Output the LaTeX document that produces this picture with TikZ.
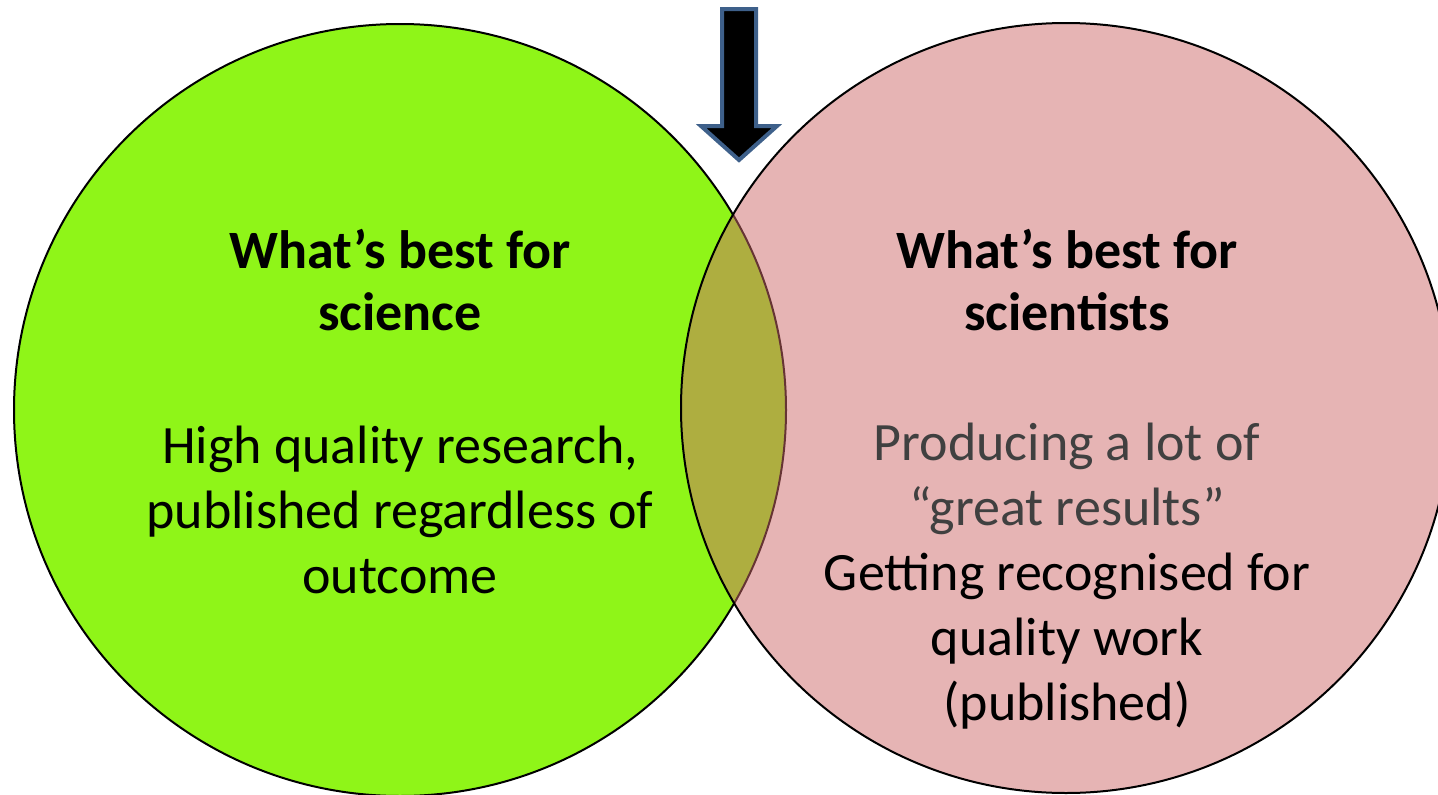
\documentclass[tikz,border=0pt]{standalone}
\usepackage{fontspec}
\setmainfont{Carlito}
\definecolor{greenfill}{RGB}{143,245,24}
\definecolor{pinkbase}{RGB}{205,105,105}
\definecolor{arrowedge}{RGB}{62,96,138}
\definecolor{greytext}{RGB}{64,64,64}
\begin{document}
\begin{tikzpicture}[x=1pt,y=-1pt,
  venn/.style={circle,draw=black,line width=2pt,inner sep=0pt},
  head/.style={font=\fontsize{54}{62}\selectfont\bfseries,anchor=base,inner sep=0pt},
  body/.style={font=\fontsize{54}{65}\selectfont,anchor=base,inner sep=0pt},
  bodygrey/.style={body,text=greytext}]
\useasboundingbox (0,0) rectangle (1438,795);
\node[venn,fill=greenfill,minimum size=772pt] (science) at (400,410) {};
\node[venn,fill=pinkbase,fill opacity=0.5,minimum size=770pt] (scientists) at (1066,408) {};
\draw[fill=black,draw=arrowedge,line width=4pt,line join=miter]
  (722,9) -- (756,9) -- (756,126) -- (777,126) -- (739,160) -- (701,126) -- (722,126) -- cycle;
% left texts
\node[head] (lh1) at (400,268) {What’s best for};
\node[head] (lh2) at (400,330) {science};
\node[body] (lb1) at (400,463) {High quality research,};
\node[body] (lb2) at (400,528) {published regardless of};
\node[body] (lb3) at (400,593) {outcome};
% right texts
\node[head] (rh1) at (1067,268) {What’s best for};
\node[head] (rh2) at (1067,330) {scientists};
\node[bodygrey] (rb1) at (1067,460) {Producing a lot of};
\node[bodygrey] (rb2) at (1067,525) {“great results”};
\node[body] (rb3) at (1067,590) {Getting recognised for};
\node[body] (rb4) at (1067,655) {quality work};
\node[body] (rb5) at (1067,720) {(published)};
\end{tikzpicture}
\end{document}
